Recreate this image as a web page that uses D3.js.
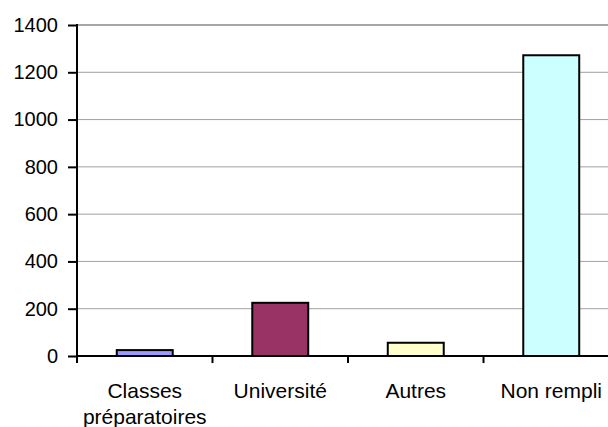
<!DOCTYPE html>
<html><head><meta charset="utf-8">
<script src="https://cdn.jsdelivr.net/npm/d3@7/dist/d3.min.js"></script>
<style>body{margin:0;background:#fff}svg{display:block}</style>
</head><body>
<script>
const categories = ["Classes\npréparatoires", "Université", "Autres", "Non rempli"];
const values = [25, 225, 56, 1272];
const colors = ["#9999FF", "#993366", "#FFFFCC", "#CCFFFF"];
const yTicks = [0, 200, 400, 600, 800, 1000, 1200, 1400];

(function () {
const W = 608, H = 427;
const mLeft = 77, mTop = 25, mBottom = 356, step = 135.5;
const svg = d3.select("body").append("svg").attr("width", W).attr("height", H);

const y = d3.scaleLinear().domain([0, 1400]).range([mBottom, mTop]);
const x = d3.scaleBand().domain(categories).range([mLeft, mLeft + step * categories.length])
  .paddingInner(0.587).paddingOuter(0.2935);

// gridlines
svg.append("g").selectAll("line").data(yTicks.filter(d => d > 0)).join("line")
  .attr("x1", mLeft).attr("x2", W).attr("y1", d => y(d)).attr("y2", d => y(d))
  .attr("stroke", d => d === 1400 ? "#888" : "#a0a0a0").attr("stroke-width", d => d === 1400 ? 1.6 : 1);

// y axis
const yAxis = d3.axisLeft(y).tickValues(yTicks).tickSize(9).tickPadding(10).tickFormat(d3.format("d"));
const gy = svg.append("g").attr("transform", `translate(${mLeft},0)`).call(yAxis);
gy.select(".domain").remove();
gy.selectAll(".tick line").attr("stroke", "#000").attr("stroke-width", 2);
gy.selectAll(".tick text").attr("font-family", "Liberation Sans, Arial, sans-serif").attr("font-size", 20).attr("fill", "#000");
svg.append("line").attr("x1", mLeft).attr("x2", mLeft).attr("y1", mTop - 1).attr("y2", mBottom + 6)
  .attr("stroke", "#000").attr("stroke-width", 2);

// bars
svg.append("g").selectAll("rect").data(categories).join("rect")
  .attr("x", d => x(d)).attr("width", x.bandwidth())
  .attr("y", (d, i) => y(values[i])).attr("height", (d, i) => y(0) - y(values[i]))
  .attr("fill", (d, i) => colors[i]).attr("stroke", "#000").attr("stroke-width", 2);

// x axis
svg.append("line").attr("x1", mLeft).attr("x2", W).attr("y1", mBottom).attr("y2", mBottom)
  .attr("stroke", "#000").attr("stroke-width", 2);
const boundaries = categories.map(c => x(c) - x.step() * x.paddingInner() / 2);
svg.append("g").selectAll("line").data(boundaries).join("line")
  .attr("x1", d => d).attr("x2", d => d).attr("y1", mBottom).attr("y2", mBottom + 7)
  .attr("stroke", "#000").attr("stroke-width", 2);

const lbl = svg.append("g").selectAll("text").data(categories).join("text")
  .attr("x", d => x(d) + x.bandwidth() / 2).attr("y", 398)
  .attr("text-anchor", "middle").attr("font-family", "Liberation Sans, Arial, sans-serif")
  .attr("font-size", 21).attr("fill", "#000");
lbl.selectAll("tspan").data(d => d.split("\n")).join("tspan")
  .attr("x", function () { return this.parentNode.getAttribute("x"); })
  .attr("dy", (d, i) => i === 0 ? 0 : 26).text(d => d);
})();
</script>
</body></html>
